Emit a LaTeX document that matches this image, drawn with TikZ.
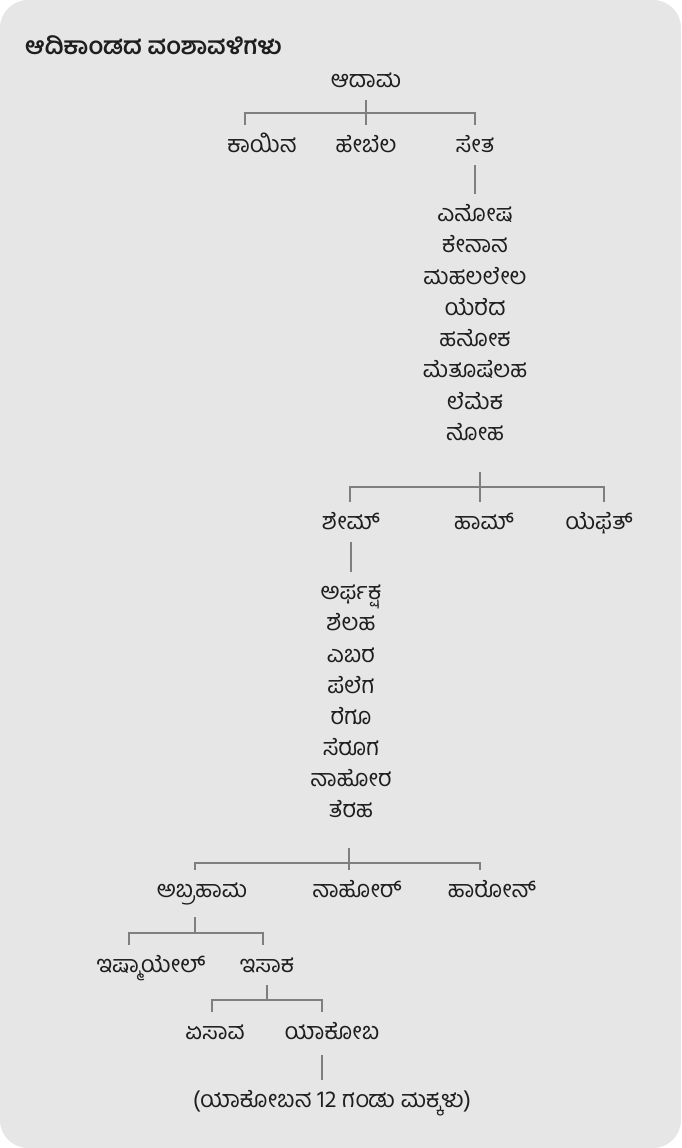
\documentclass[tikz,border=0pt]{standalone}
\usepackage{fontspec}
\newfontfamily\kan[Script=Kannada]{Hind Mysuru}
\definecolor{panel}{HTML}{E6E6E6}
\definecolor{wire}{HTML}{7F7F7F}
\definecolor{ink}{HTML}{1E1E1E}

\begin{document}
\begin{tikzpicture}[x=1pt, y=-1pt,
    every node/.style={font=\kan\fontsize{23.5}{24}\selectfont, text=ink, inner sep=0pt,
        minimum height=40pt, text height=19pt, text depth=5pt},
    link/.style={draw=wire, line width=1.6pt}]
    \useasboundingbox (0,0) rectangle (681,1148);
    \fill[white] (0,0) rectangle (681,1148);
    \fill[panel, rounded corners=28pt] (0,0) rectangle (681,1148);

    \node[anchor=west, font=\kan\bfseries\fontsize{24}{24}\selectfont] (title) at (25,48) {ಆದಿಕಾಂಡದ ವಂಶಾವಳಿಗಳು};

    \node (adam) at (366,80) {ಆದಾಮ};
    \node (cain) at (262,145) {ಕಾಯಿನ};
    \node (abel) at (366,145) {ಹೇಬೆಲ};
    \node (seth) at (475,145) {ಸೇತ};

    \node (enosh) at (475,214) {ಎನೋಷ};
    \node (kenan) at (475,245) {ಕೇನಾನ};
    \node (mahal) at (475,277) {ಮಹಲಲೇಲ};
    \node (jared) at (475,308) {ಯೆರೆದ};
    \node (enoch) at (475,339) {ಹನೋಕ};
    \node (methu) at (475,370) {ಮೆತೂಷೆಲಹ};
    \node (lamech) at (475,402) {ಲೆಮೆಕ};
    \node (noah) at (475,433) {ನೋಹ};

    \node (shem) at (351,522) {ಶೇಮ್};
    \node (ham) at (484,522) {ಹಾಮ್};
    \node (japheth) at (599,522) {ಯೆಫೆತ್};

    \node (arpa) at (351,592) {ಅರ್ಫಕ್ಷ};
    \node (shelah) at (351,623) {ಶೆಲಹ};
    \node (eber) at (351,655) {ಎಬರ};
    \node (peleg) at (351,686) {ಪೆಲೆಗ};
    \node (reu) at (351,717) {ರೆಗೂ};
    \node (serug) at (351,748) {ಸೆರೂಗ};
    \node (nahorA) at (351,779) {ನಾಹೋರ};
    \node (terah) at (351,810) {ತೆರಹ};

    \node (abram) at (202,890) {ಅಬ್ರಹಾಮ};
    \node (nahorB) at (357,890) {ನಾಹೋರ್};
    \node (haran) at (492,890) {ಹಾರೋನ್};

    \node (ishmael) at (151,965) {ಇಷ್ಮಾಯೇಲ್};
    \node (isaac) at (267,965) {ಇಸಾಕ};

    \node (esau) at (215,1032) {ಏಸಾವ};
    \node (jacob) at (332,1032) {ಯಾಕೋಬ};

    \node (sons) at (332,1100) {(ಯಾಕೋಬನ 12 ಗಂಡು ಮಕ್ಕಳು)};

    % junction points
    \coordinate (b1l) at (245,113);
    \coordinate (b1r) at (475,113);
    \coordinate (t2) at (480,472);
    \coordinate (b2l) at (350,487);
    \coordinate (b2r) at (604,487);
    \coordinate (t3) at (349,848);
    \coordinate (b3l) at (195,863);
    \coordinate (b3r) at (480,863);
    \coordinate (t4) at (195,917);
    \coordinate (b4l) at (129,933);
    \coordinate (b4r) at (263,933);
    \coordinate (b5l) at (212,1000);
    \coordinate (b5r) at (322,1000);
    \coordinate (t6) at (322,1055);

    \draw[link] (adam) -- (abel);
    \draw[link] (b1l |- cain.north) -- (b1l) -- (b1r) -- (b1r |- seth.north);
    \draw[link] (seth) -- (enosh);

    \draw[link] (t2) -- (t2 |- ham.north);
    \draw[link] (b2l |- shem.north) -- (b2l) -- (b2r) -- (b2r |- japheth.north);
    \draw[link] (shem) -- (arpa);

    \draw[link] (t3) -- (t3 |- nahorB.north);
    \draw[link] (b3l |- abram.north) -- (b3l) -- (b3r) -- (b3r |- haran.north);

    \draw[link] (t4) -- (b4l -| t4);
    \draw[link] (b4l |- ishmael.north) -- (b4l) -- (b4r) -- (b4r |- isaac.north);

    \draw[link] (b5l -| isaac) -- (isaac);
    \draw[link] (b5l |- esau.north) -- (b5l) -- (b5r) -- (b5r |- jacob.north);

    \draw[link] (t6) -- (t6 |- sons.north);
\end{tikzpicture}
\end{document}
